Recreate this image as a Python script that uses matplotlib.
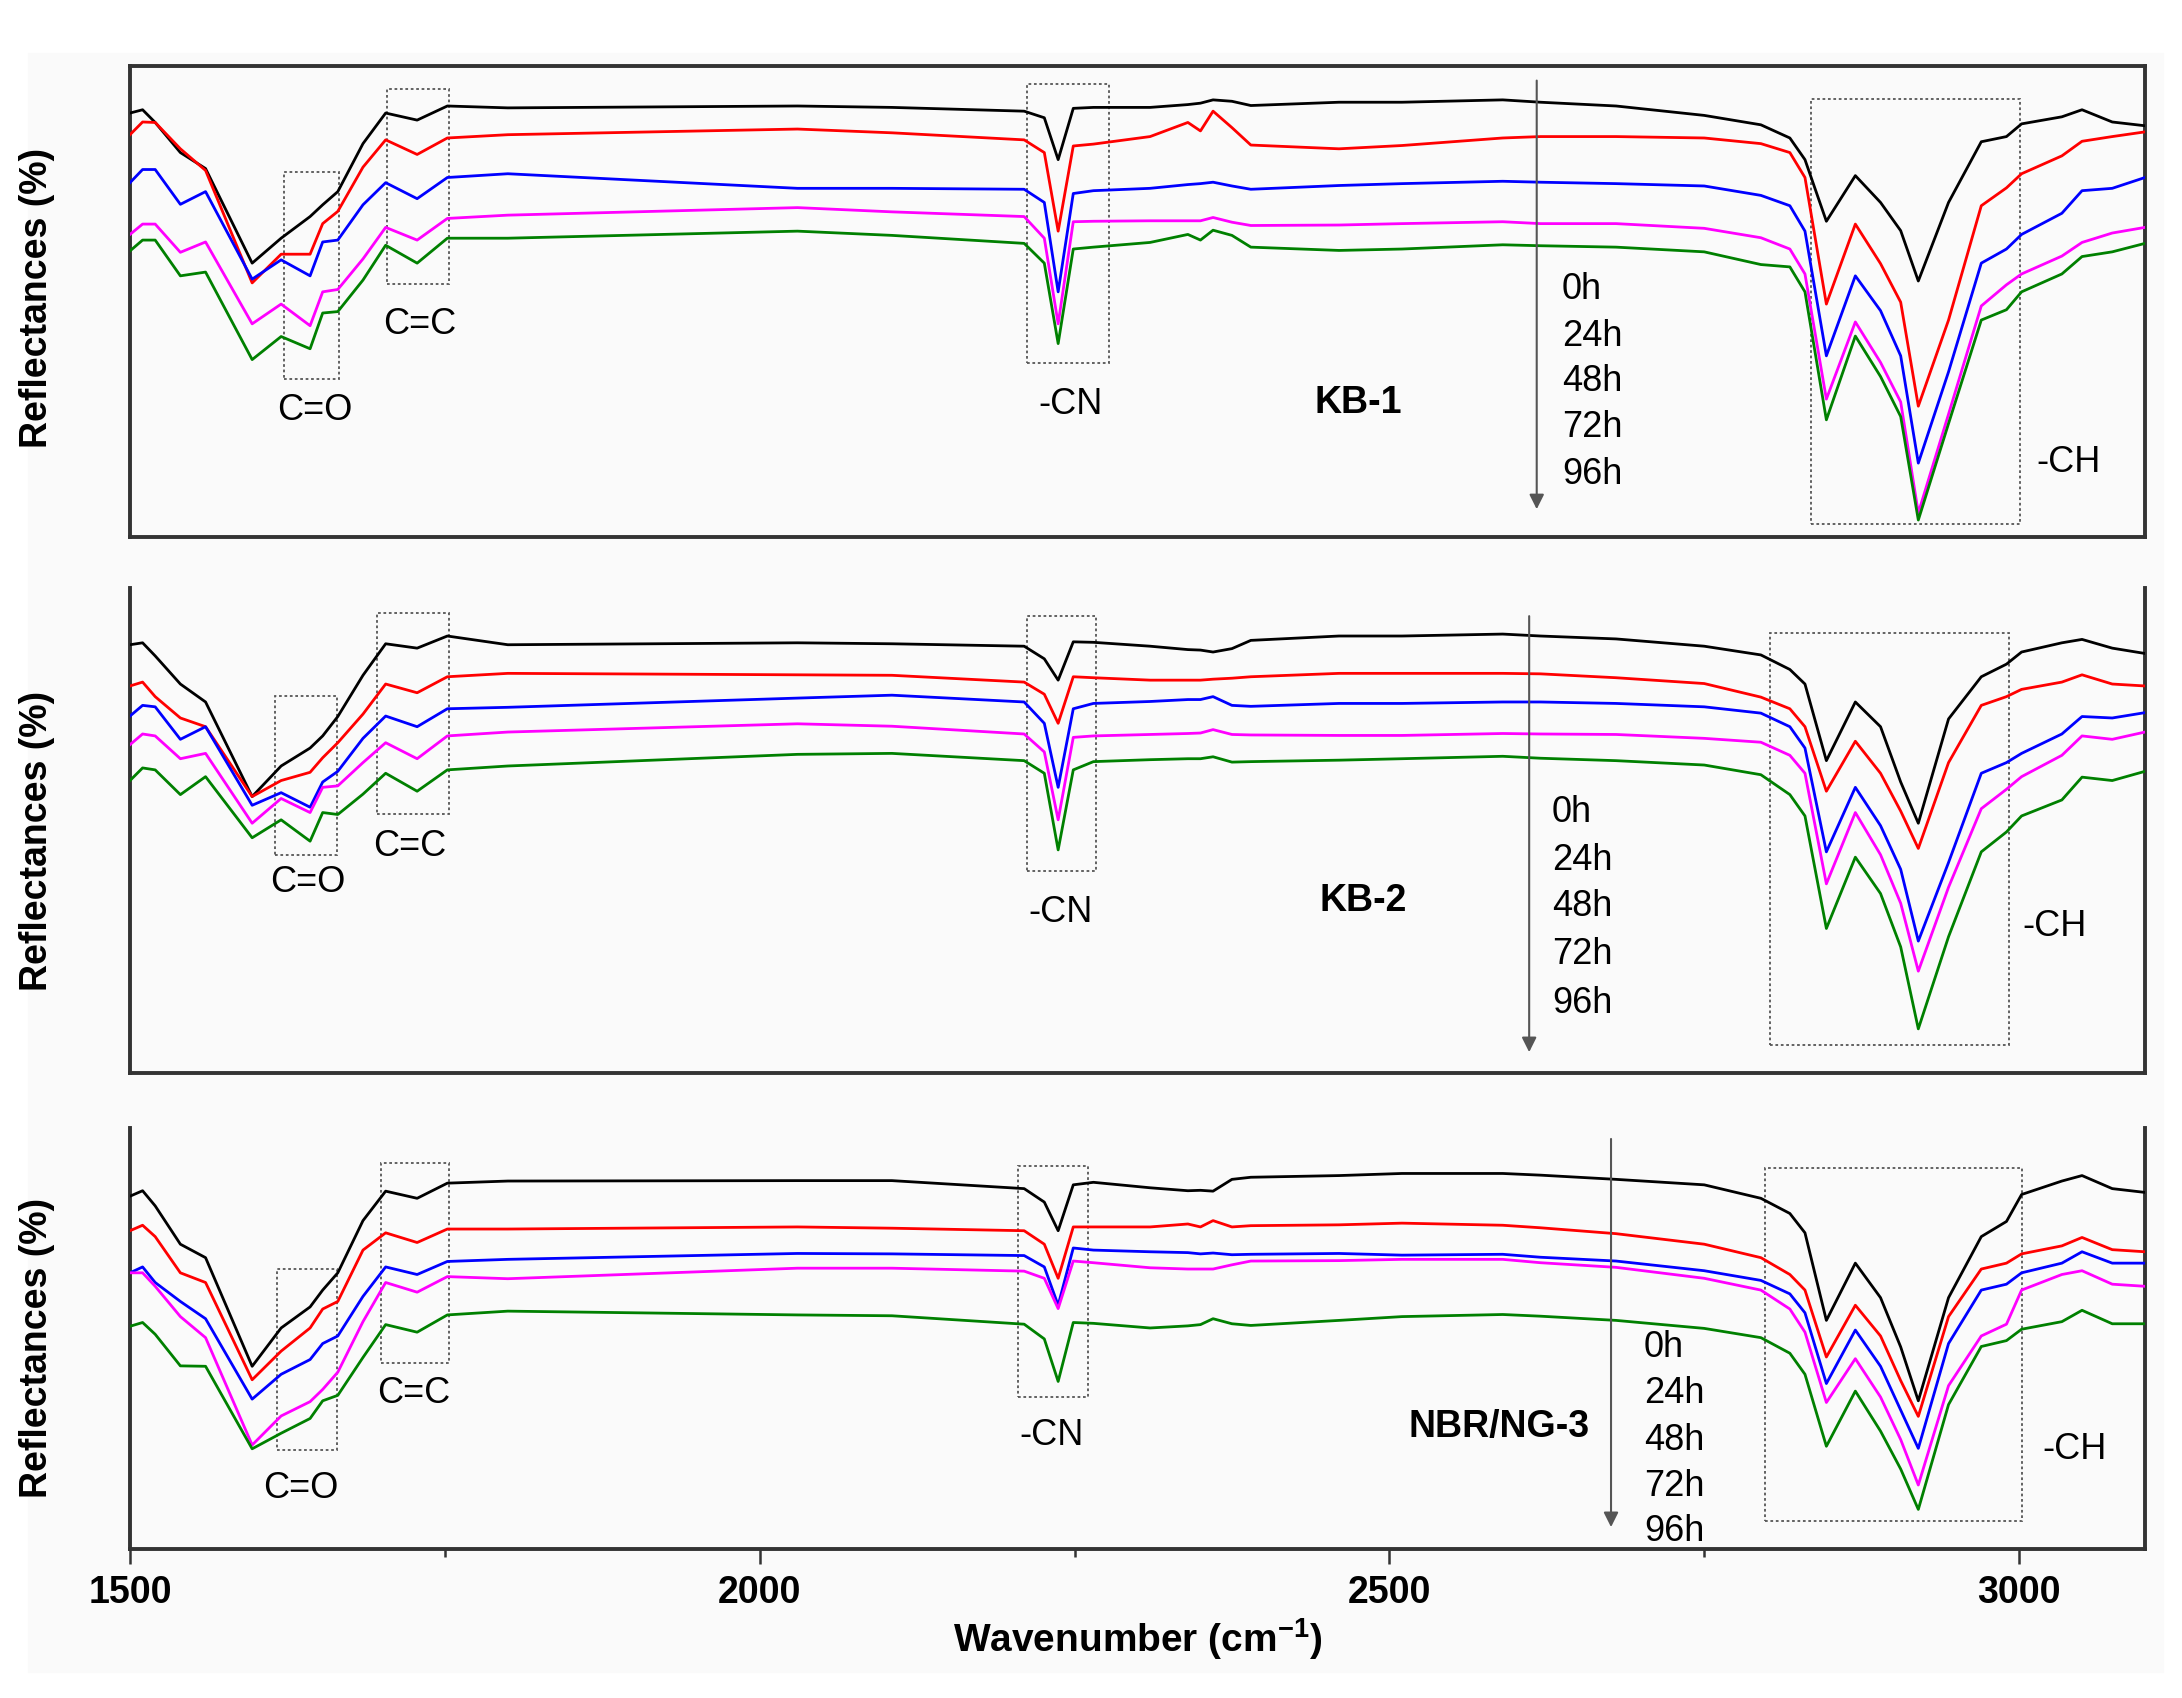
import matplotlib
matplotlib.use("Agg")
import matplotlib.pyplot as plt
from matplotlib.patches import Rectangle

plt.rcParams['font.family'] = ['Liberation Sans', 'DejaVu Sans']
plt.rcParams['mathtext.fontset'] = 'custom'
plt.rcParams['mathtext.rm'] = 'Liberation Sans'
plt.rcParams['mathtext.bf'] = 'Liberation Sans:bold'

# wavenumber grid (cm-1) the spectra were read at
wavenumber = [1500, 1510, 1520, 1540, 1560, 1597, 1620, 1643, 1653, 1665,
              1685, 1703, 1728, 1752, 1800, 2030, 2105, 2210, 2226, 2237,
              2249, 2265, 2310, 2340, 2350, 2360, 2375, 2390, 2460, 2510,
              2590, 2620, 2680, 2750, 2795, 2818, 2830, 2847, 2870, 2890,
              2906, 2920, 2944, 2970, 2990, 3002, 3034, 3050, 3074, 3100]

hours = ['0h', '24h', '48h', '72h', '96h']

# KB-1 (relative reflectance, 0-100 of panel)
kb1_0h = [90, 90.7, 88, 81.6, 78.2, 58.1, 63.4, 68, 70.5, 73.3,
          83.5, 90, 88.5, 91.5, 91.1, 91.5, 91.2, 90.4, 89, 80.1,
          91, 91.2, 91.2, 91.8, 92.1, 92.8, 92.5, 91.6, 92.3, 92.3,
          92.8, 92.3, 91.5, 89.5, 87.5, 84.7, 80.1, 67, 76.7, 71,
          65, 54.3, 71, 83.9, 85, 87.7, 89.2, 90.7, 88.1, 87.3]
kb1_24h = [85.4, 88.1, 88, 82.4, 77.8, 53.9, 60, 60, 66.5, 69.1,
           78.5, 84.3, 81.2, 84.7, 85.4, 86.6, 85.8, 84.3, 81.6, 64.9,
           83, 83.4, 85, 88, 86.2, 90.4, 86.9, 83.2, 82.4, 83.1,
           84.7, 85, 85, 84.7, 83.5, 81.6, 76.3, 49.4, 66.4, 58,
           49.8, 27.7, 46, 70.3, 74.1, 77.1, 80.9, 84, 85, 86]
kb1_48h = [75.2, 78, 78, 70.6, 73.3, 54.7, 58.8, 55.4, 62.6, 63,
           70.5, 75.2, 71.8, 76.3, 77.1, 74, 74, 73.8, 71, 52,
           72.9, 73.5, 74, 74.8, 75, 75.3, 74.5, 73.8, 74.6, 75,
           75.5, 75.3, 75, 74.5, 72.5, 70.3, 64.9, 38.4, 55.4, 48,
           38.4, 15.6, 35, 58.1, 61.1, 64.2, 68.7, 73.5, 74, 76.3]
kb1_72h = [64.2, 66.4, 66.4, 60.4, 62.6, 45.2, 49.4, 44.8, 52, 52.5,
           59, 65.7, 63, 67.6, 68.3, 69.9, 69, 68, 63.4, 45.2,
           66.9, 67, 67.1, 67.1, 67.1, 67.8, 66.8, 66.1, 66.2, 66.5,
           66.9, 66.5, 66.5, 65.5, 63.5, 61.1, 55.8, 29.2, 45.6, 37,
           28.6, 5, 26, 49, 53.5, 55.8, 59.6, 62.5, 64.5, 65.7]
kb1_96h = [60.7, 63, 63, 55.4, 56.2, 37.6, 42.5, 39.9, 47.5, 47.8,
           54.5, 61.9, 58.1, 63.4, 63.4, 64.9, 64, 62.3, 58.1, 41,
           61.1, 61.5, 62.5, 64.2, 63, 65.1, 64, 61.5, 60.8, 61.1,
           62, 61.8, 61.5, 60.5, 57.8, 57.3, 52, 24.8, 42.6, 34,
           25.5, 3.5, 24, 46, 48.2, 52, 55.8, 59.5, 60.5, 62.3]

# KB-2
kb2_0h = [88.3, 88.7, 86, 80.2, 76.5, 57, 63.3, 67, 69.5, 73.5,
          82, 88.5, 87.6, 90.1, 88.3, 88.7, 88.5, 88, 85.4, 81,
          88.9, 88.8, 88, 87.3, 87.2, 86.8, 87.5, 89.2, 90.1, 90.1,
          90.5, 90.1, 89.5, 88, 86.2, 83.2, 80.2, 64.4, 76.5, 71.4,
          60, 51.5, 73, 81.7, 84.3, 86.8, 88.7, 89.4, 87.6, 86.5]
kb2_24h = [79.8, 80.6, 77.6, 73.2, 71.4, 57, 60.3, 62, 65, 68.1,
           74, 80.2, 78.4, 81.7, 82.4, 82.1, 82, 80.6, 78.1, 72.1,
           81.7, 81.5, 81, 81, 81, 81.2, 81.4, 81.7, 82.4, 82.4,
           82.4, 82.3, 81.5, 80.3, 77.5, 75.1, 71.4, 58.1, 68.4, 61.8,
           54, 46.3, 64, 75.8, 77.6, 79.1, 80.6, 82.1, 80.2, 79.8]
kb2_48h = [73.6, 75.8, 75.5, 68.8, 71.4, 55.2, 57.8, 54.8, 60, 62.2,
           69, 73.6, 71.4, 75.1, 75.4, 77.3, 77.9, 76.5, 72.1, 58.9,
           75.1, 76.2, 76.6, 77, 77, 77.6, 75.8, 75.6, 76.2, 76.2,
           76.5, 76.5, 76.2, 75.5, 74.2, 71.4, 67, 45.6, 58.9, 51,
           42, 27.2, 43.4, 61.8, 64, 65.9, 69.9, 73.5, 73.2, 74.3]
kb2_72h = [67.7, 69.9, 69.5, 64.8, 65.9, 51.5, 56.6, 53.7, 58.9, 59.2,
           64, 68.1, 64.8, 69.5, 70.3, 72, 71.5, 69.9, 66.2, 52.2,
           69.2, 69.5, 69.8, 70, 70.1, 70.8, 69.8, 69.7, 69.6, 69.6,
           70, 69.9, 69.8, 69, 68.2, 65.5, 61.8, 39, 53.7, 45,
           35, 21, 38.3, 54.5, 58.5, 61.1, 65.5, 69.5, 68.8, 70.3]
kb2_96h = [60.3, 62.9, 62.5, 57.4, 61.1, 48.5, 52.2, 47.8, 53.7, 53.3,
           57.5, 61.8, 58.1, 62.5, 63.3, 65.7, 65.9, 64.4, 61.8, 46,
           62.5, 64.2, 64.6, 64.8, 64.8, 65.2, 64.1, 64.2, 64.5, 64.8,
           65.3, 64.9, 64.4, 63.5, 61.5, 57.4, 53, 29.8, 44.5, 37,
           26, 9.1, 28.1, 45.6, 49.7, 53, 56.3, 61, 60.3, 62.2]

# NBR/NG-3
ng3_0h = [83.8, 85.1, 81.5, 72.4, 69.2, 43.4, 52.5, 57.5, 61.5, 65.6,
          78, 85, 83.3, 86.9, 87.4, 87.5, 87.5, 85.6, 82.4, 75.6,
          86.5, 87.1, 85.8, 85.1, 85.2, 85, 87.8, 88.3, 88.7, 89.2,
          89.2, 88.8, 87.8, 86.5, 83.3, 79.7, 75.1, 54.3, 67.9, 59.7,
          48, 35.2, 59.7, 74.2, 77.8, 84.2, 87.4, 88.7, 85.6, 84.7]
ng3_24h = [75.6, 76.9, 74.2, 65.6, 63.3, 40.2, 47, 52.5, 57, 58.8,
           71, 75.1, 72.8, 76, 76, 76.5, 76.2, 75.6, 72.4, 64.3,
           76.5, 76.5, 76.5, 77.2, 76.5, 78, 76.5, 76.8, 77, 77.4,
           76.9, 76.3, 74.9, 72.4, 69.2, 65.2, 61.5, 45.6, 57.9, 50.6,
           40, 31.5, 55.2, 66.5, 67.9, 70.1, 72, 74, 71.1, 70.6]
ng3_48h = [65.6, 67, 63.3, 58.8, 54.7, 35.6, 41.5, 45, 48.8, 50.6,
           60, 67, 65.2, 68.3, 68.8, 70.2, 70.1, 69.7, 67, 57.9,
           71.5, 71, 70.6, 70.4, 70.1, 70.3, 69.9, 70, 70.2, 69.8,
           70, 69.3, 68.4, 66.1, 63.8, 60.6, 56.1, 39.3, 52, 43.4,
           33, 23.9, 48.8, 61.5, 62.9, 65.6, 67.9, 70.6, 67.9, 67.9]
ng3_72h = [65.6, 65.6, 62.4, 55.2, 50.2, 24.7, 31.6, 35, 37.9, 42,
           54, 63.3, 61, 64.7, 64.2, 66.7, 66.7, 66, 64.3, 57.1,
           68.4, 68, 66.8, 66.5, 66.5, 66.5, 67.5, 68.4, 68.5, 68.8,
           68.8, 68, 66.9, 64.3, 61.5, 57, 51.5, 34.8, 45.2, 36.1,
           26, 15.2, 38.8, 50.6, 53.4, 61.5, 65.2, 66.1, 62.9, 62.4]
ng3_96h = [52.9, 53.8, 51, 43.5, 43.4, 23.8, 27.5, 31, 35.2, 36.5,
           45.5, 53.3, 51.5, 55.6, 56.5, 55.6, 55.4, 53.4, 49.9, 39.8,
           53.8, 53.6, 52.5, 53, 53.3, 54.7, 53.5, 53.1, 54.3, 55.2,
           55.7, 55.3, 54.3, 52.4, 50.2, 46.5, 41.5, 24.4, 37.5, 28,
           19, 9.4, 34.3, 48.1, 49.5, 52.2, 54, 56.7, 53.5, 53.5]

colors = ['black', '#ff0000', '#0000ff', '#ff00ff', '#008000']

W, H = 2182, 1699


def make_axes(fig, top_px, bottom_px):
    return fig.add_axes([130 / W, (H - bottom_px) / H, 2015 / W, (bottom_px - top_px) / H])


def draw_panel(ax, series, name, name_xy, arrow_x, arrow_y, hour_x, hour_ys,
               boxes, labels, full_box=False):
    for s, c in zip(series, colors):
        ax.plot(wavenumber, s, color=c, lw=2.0, zorder=3)
    ax.set_xlim(1500, 3100)
    ax.set_ylim(0, 100)
    ax.set_yticks([])
    ax.set_facecolor('none')
    for side in ['left', 'right', 'bottom', 'top']:
        ax.spines[side].set_linewidth(2.8)
        ax.spines[side].set_color('#333333')
    if not full_box:
        ax.spines['top'].set_visible(False)

    # dotted boxes round the bands
    for x0, x1, y0, y1 in boxes:
        ax.add_patch(Rectangle((x0, y0), x1 - x0, y1 - y0, fill=False,
                               ec='#555555', lw=1.3, ls=(0, (1.5, 1.5)), zorder=2))
    for txt, x, y in labels:
        ax.text(x, y, txt, fontsize=26, ha='center', va='center')

    ax.text(name_xy[0], name_xy[1], name, fontsize=27, fontweight='bold',
            ha='center', va='center')

    ax.annotate('', xy=(arrow_x, arrow_y[1]), xytext=(arrow_x, arrow_y[0]),
                arrowprops=dict(arrowstyle='-|>', color='#555555', lw=1.5,
                                mutation_scale=22, shrinkA=0, shrinkB=0))
    for h, y in zip(hours, hour_ys):
        ax.text(hour_x, y, h, fontsize=26, ha='left', va='center')

    ax.set_ylabel('Reflectances (%)', fontsize=27, fontweight='bold')


fig = plt.figure(figsize=(W / 100, H / 100), dpi=100)
fig.patch.set_facecolor('white')
fig.patches.append(Rectangle((28 / W, 26 / H), 2135 / W, 1619 / H,
                             transform=fig.transFigure, color='#fafafa', zorder=-10))

ax1 = make_axes(fig, 67, 537.5)
draw_panel(ax1, [kb1_0h, kb1_24h, kb1_48h, kb1_72h, kb1_96h], 'KB-1', (2475, 28.6),
           2617, (96.9, 5.8), 2637, [52.8, 42.8, 33.1, 23.3, 13.3],
           [(1622, 1666, 33.5, 77.5), (1704, 1753, 53.7, 95.1),
            (2212, 2277, 36.9, 96.2), (2835, 3001, 2.7, 93)],
           [('C=O', 1647, 26.9), ('C=C', 1730, 45.2), ('-CN', 2247, 28.2), ('-CH', 3039, 16)],
           full_box=True)
ax1.set_xticks([])
ax1.yaxis.set_label_coords(-0.037, 0.51)

ax2 = make_axes(fig, 589, 1074)
draw_panel(ax2, [kb2_0h, kb2_24h, kb2_48h, kb2_72h, kb2_96h], 'KB-2', (2479, 35.7),
           2611, (94.2, 4.3), 2629, [54, 44.1, 34.6, 24.7, 14.6],
           [(1615, 1664, 44.9, 77.7), (1696, 1753, 53.4, 94.8),
            (2212, 2267, 41.6, 94.2), (2802, 2992, 5.8, 90.7)],
           [('C=O', 1641, 39.4), ('C=C', 1722, 47), ('-CN', 2239, 33.4), ('-CH', 3028, 30.5)])
ax2.set_xticks([])
ax2.yaxis.set_label_coords(-0.037, 0.48)

ax3 = make_axes(fig, 1129, 1550)
draw_panel(ax3, [ng3_0h, ng3_24h, ng3_48h, ng3_72h, ng3_96h], 'NBR/NG-3', (2587, 29.2),
           2676, (97.4, 5.2), 2702, [48, 37.1, 26.1, 15.2, 4.3],
           [(1617, 1664, 23.5, 66.5), (1699, 1753, 44.2, 91.7),
            (2205, 2261, 36.1, 91), (2798, 3002, 6.7, 90.5)],
           [('C=O', 1636, 14.7), ('C=C', 1725, 37.1), ('-CN', 2231.5, 27.1), ('-CH', 3044, 23.8)])
ax3.yaxis.set_label_coords(-0.037, 0.48)
ax3.set_xticks([1500, 2000, 2500, 3000])
ax3.set_xticks([1750, 2250, 2750], minor=True)
ax3.tick_params(axis='x', which='major', direction='out', length=11, width=1.8,
                labelsize=27, pad=7, color='#333333')
ax3.tick_params(axis='x', which='minor', direction='out', length=6, width=1.8,
                color='#333333')
for lab in ax3.get_xticklabels():
    lab.set_fontweight('bold')
ax3.set_xlabel(r'Wavenumber (cm$^{\mathbf{-1}}$)', fontsize=28, fontweight='bold', labelpad=4)

fig.savefig('out.png', dpi=100, facecolor=fig.get_facecolor())
